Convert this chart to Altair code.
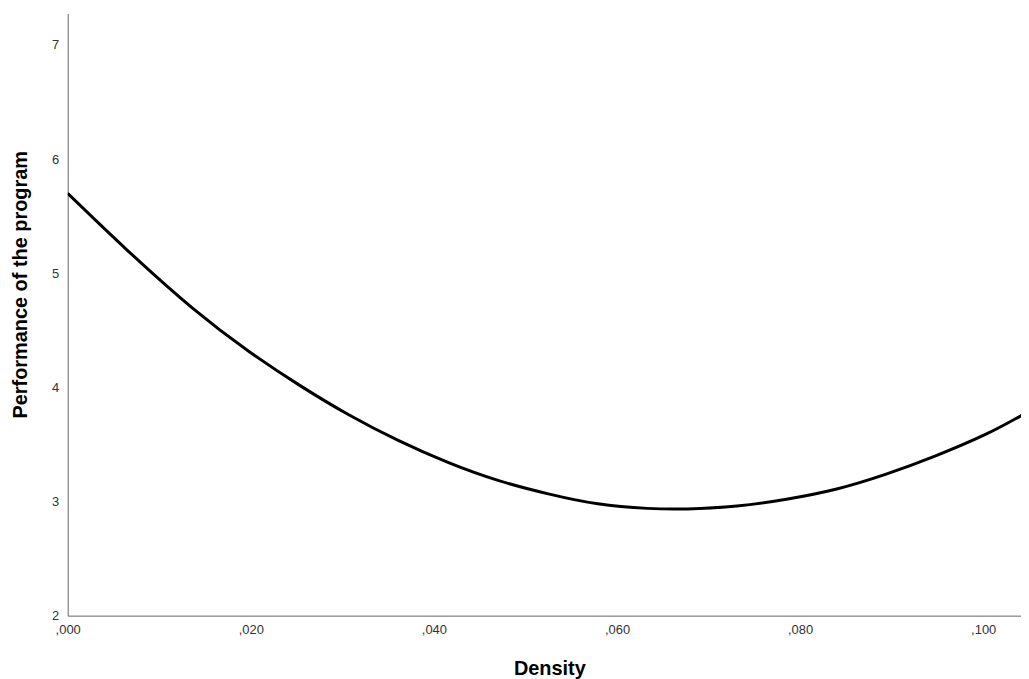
import altair as alt
import pandas as pd

# Values
density = [0.000, 0.0064, 0.0137, 0.0198, 0.0253, 0.0307, 0.0361, 0.0416,
           0.0470, 0.0525, 0.0579, 0.0633, 0.0677, 0.0731, 0.0785, 0.0840,
           0.0894, 0.0948, 0.1003, 0.1043]
performance = [5.70, 5.21, 4.69, 4.315, 4.02, 3.76, 3.535, 3.34,
               3.185, 3.067, 2.98, 2.94, 2.935, 2.96, 3.02, 3.11,
               3.24, 3.40, 3.59, 3.76]
x_ticks = [0.0, 0.02, 0.04, 0.06, 0.08, 0.10]
y_ticks = [2, 3, 4, 5, 6, 7]

df = pd.DataFrame({"Density": density, "Performance": performance})

FONT = "Liberation Sans"
W = 958
H = 605
X_MAX = 0.10413
Y_MAX = 7.275

chart = alt.Chart(df).mark_line(
    color="black", strokeWidth=3, interpolate="natural", clip=True
).encode(
    x=alt.X(
        "Density:Q",
        scale=alt.Scale(domain=[0, X_MAX], nice=False, zero=False),
        axis=alt.Axis(
            values=x_ticks,
            labelExpr="replace(format(datum.value, '.3f'), '0.', ',')",
            title="Density",
            grid=False,
            ticks=False,
            domainColor="#666666",
            domainWidth=1,
            labelFont=FONT,
            labelFontSize=13,
            labelColor="#333333",
            labelPadding=8,
            labelFlush=False,
            titleFont=FONT,
            titleFontSize=20,
            titleFontWeight="bold",
            titleColor="black",
            titleX=484,
            titleY=59,
            titleBaseline="alphabetic",
            titleAnchor="start",
            titleAlign="center",
        ),
    ),
    y=alt.Y(
        "Performance:Q",
        scale=alt.Scale(domain=[2, Y_MAX], nice=False, zero=False),
        axis=alt.Axis(
            values=y_ticks,
            format="d",
            title="Performance of the program",
            grid=False,
            ticks=False,
            domainColor="#666666",
            domainWidth=1,
            labelFont=FONT,
            labelFontSize=13,
            labelColor="#333333",
            labelPadding=9,
            labelFlush=False,
            titleFont=FONT,
            titleFontSize=20,
            titleFontWeight="bold",
            titleColor="black",
            titleX=-41,
            titleY=272,
            titleAngle=270,
            titleBaseline="alphabetic",
            titleAlign="center",
            titleAnchor="start",
        ),
    ),
).properties(
    width=W,
    height=H,
    autosize=alt.AutoSizeParams(type="none"),
    padding={"left": 60, "top": 4, "right": 0, "bottom": 62},
    background="white",
).configure_view(
    stroke="transparent"
)

chart.save("out.html", embed_options={"renderer": "svg", "actions": False})
